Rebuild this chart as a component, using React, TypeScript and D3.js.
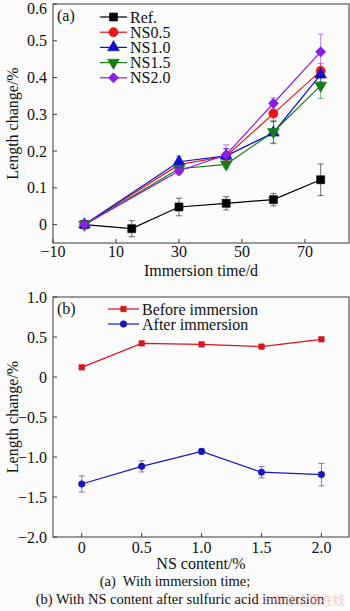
import React from "react";
import * as d3 from "d3";

const W = 350;
const H = 611;
const FONT = "'Liberation Serif', 'Times New Roman', serif";

// panel (a): length change vs immersion time
const refDays = [0, 15, 30, 45, 60, 75];
const refValues = [0, -0.011, 0.048, 0.058, 0.068, 0.122];
const refErrors = [0, 0.022, 0.024, 0.018, 0.017, 0.043];

const nsDays = [0, 30, 45, 60, 75];
const ns05Values = [0, 0.163, 0.186, 0.302, 0.418];
const ns05Errors = [0, 0.015, 0.02, 0.02, 0.02];
const ns10Values = [0, 0.171, 0.187, 0.25, 0.408];
const ns10Errors = [0, 0.015, 0.02, 0.03, 0.02];
const ns15Values = [0, 0.152, 0.164, 0.252, 0.378];
const ns15Errors = [0, 0.01, 0.01, 0.03, 0.035];
const ns20Values = [0, 0.146, 0.19, 0.33, 0.47];
const ns20Errors = [0, 0.01, 0.027, 0.015, 0.048];

const timeTicks = [-10, 10, 30, 50, 70];
const changeTicksA = [0, 0.1, 0.2, 0.3, 0.4, 0.5, 0.6];

// panel (b): length change vs NS content
const nsContent = [0, 0.5, 1.0, 1.5, 2.0];
const beforeValues = [0.121, 0.42, 0.408, 0.38, 0.471];
const beforeErrors = [0.02, 0.015, 0.015, 0.015, 0.025];
const afterValues = [-1.337, -1.117, -0.93, -1.19, -1.22];
const afterErrors = [0.1, 0.07, 0.03, 0.07, 0.14];

const contentTicks = [0, 0.5, 1.0, 1.5, 2.0];
const changeTicksB = [-2.0, -1.5, -1.0, -0.5, 0, 0.5, 1.0];

type Series = {
  name: string;
  xs: number[];
  ys: number[];
  errs: number[];
  color: string;
  marker: string;
  size: number;
};

const seriesA: Series[] = [
  { name: "Ref.", xs: refDays, ys: refValues, errs: refErrors, color: "#000000", marker: "square", size: 64 },
  { name: "NS0.5", xs: nsDays, ys: ns05Values, errs: ns05Errors, color: "#e8161b", marker: "circle", size: 66 },
  { name: "NS1.0", xs: nsDays, ys: ns10Values, errs: ns10Errors, color: "#1010c8", marker: "up", size: 60 },
  { name: "NS1.5", xs: nsDays, ys: ns15Values, errs: ns15Errors, color: "#167a16", marker: "down", size: 60 },
  { name: "NS2.0", xs: nsDays, ys: ns20Values, errs: ns20Errors, color: "#8a1ee8", marker: "diamond", size: 52 },
];

const seriesB: Series[] = [
  { name: "Before immersion", xs: nsContent, ys: beforeValues, errs: beforeErrors, color: "#d8161e", marker: "square", size: 30 },
  { name: "After immersion", xs: nsContent, ys: afterValues, errs: afterErrors, color: "#1818b8", marker: "circle", size: 34 },
];

function markerPath(kind: string, size: number) {
  const type =
    kind === "square" || kind === "diamond"
      ? d3.symbolSquare
      : kind === "circle"
      ? d3.symbolCircle
      : d3.symbolTriangle;
  return d3.symbol().type(type).size(size)() || "";
}

function markerRotate(kind: string) {
  if (kind === "down") return 180;
  if (kind === "diamond") return 45;
  return 0;
}

function Marker({ s, x, y }: { s: Series; x: number; y: number }) {
  return (
    <path
      d={markerPath(s.marker, s.size)}
      transform={`translate(${x},${y}) rotate(${markerRotate(s.marker)})`}
      fill={s.color}
      stroke={s.color}
      strokeWidth={0.6}
    />
  );
}

type PanelProps = {
  series: Series[];
  xDomain: [number, number];
  yDomain: [number, number];
  top: number;
  bottom: number;
  xTicks: number[];
  yTicks: number[];
  xFmt: (v: number) => string;
  yFmt: (v: number) => string;
  tag: string;
  xTitle: string;
  xTitleY: number;
  xLabelDy: number;
  legendX: number;
  legendY: number;
  legendStep: number;
  legendLine: number;
  capW: number;
};

function Panel(p: PanelProps) {
  const left = 53;
  const right = 349;
  const x = d3.scaleLinear().domain(p.xDomain).range([left, right]);
  const y = d3.scaleLinear().domain(p.yDomain).range([p.bottom, p.top]);
  const frameColor = "#3a3a3a";

  return (
    <g fontFamily={FONT}>
      <rect x={left} y={p.top} width={right - left} height={p.bottom - p.top} fill="none" stroke={frameColor} strokeWidth={1} />
      {/* y ticks */}
      {p.yTicks.map((t) => (
        <g key={"y" + t}>
          <line x1={left} x2={left + 4} y1={y(t)} y2={y(t)} stroke={frameColor} />
          <text x={47} y={Math.max(y(t), 8)} dy="0.35em" textAnchor="end" fontSize={16} fill="#111">
            {p.yFmt(t)}
          </text>
        </g>
      ))}
      {/* x ticks */}
      {p.xTicks.map((t) => (
        <g key={"x" + t}>
          <line x1={x(t)} x2={x(t)} y1={p.bottom} y2={p.bottom - 4} stroke={frameColor} />
          <text x={x(t)} y={p.bottom + p.xLabelDy} textAnchor="middle" fontSize={16} fill="#111">
            {p.xFmt(t)}
          </text>
        </g>
      ))}
      <text x={201} y={p.xTitleY} textAnchor="middle" fontSize={16} fill="#111">
        {p.xTitle}
      </text>
      <text
        transform={`translate(18,${(p.top + p.bottom) / 2}) rotate(-90)`}
        textAnchor="middle"
        fontSize={16}
        fill="#111"
      >
        Length change/%
      </text>
      <text x={57} y={p.top + 17} fontSize={16} fill="#111">
        {p.tag}
      </text>

      {/* error bars */}
      {p.series.map((s) =>
        s.xs.map((xv, i) =>
          s.errs[i] > 0 ? (
            <g key={s.name + "e" + i} stroke={s.color} strokeOpacity={0.55} strokeWidth={1}>
              <line x1={x(xv)} x2={x(xv)} y1={y(s.ys[i] - s.errs[i])} y2={y(s.ys[i] + s.errs[i])} />
              <line x1={x(xv) - p.capW} x2={x(xv) + p.capW} y1={y(s.ys[i] + s.errs[i])} y2={y(s.ys[i] + s.errs[i])} />
              <line x1={x(xv) - p.capW} x2={x(xv) + p.capW} y1={y(s.ys[i] - s.errs[i])} y2={y(s.ys[i] - s.errs[i])} />
            </g>
          ) : null
        )
      )}
      {/* lines */}
      {p.series.map((s) => {
        const path = d3
          .line<number>()
          .x((_, i) => x(s.xs[i]))
          .y((v) => y(v))(s.ys);
        return <path key={s.name + "l"} d={path || ""} fill="none" stroke={s.color} strokeWidth={1.2} />;
      })}
      {/* markers */}
      {p.series.map((s) =>
        s.xs.map((xv, i) => <Marker key={s.name + "m" + i} s={s} x={x(xv)} y={y(s.ys[i])} />)
      )}
      {/* legend */}
      {p.series.map((s, i) => {
        const ly = p.legendY + i * p.legendStep;
        return (
          <g key={s.name + "lg"}>
            <line x1={p.legendX} x2={p.legendX + p.legendLine} y1={ly} y2={ly} stroke={s.color} strokeWidth={1.2} />
            <Marker s={s} x={p.legendX + p.legendLine / 2} y={ly} />
            <text x={p.legendX + p.legendLine + 3} y={ly} dy="0.35em" fontSize={16} fill="#111">
              {s.name}
            </text>
          </g>
        );
      })}
    </g>
  );
}

export default function App() {
  return (
    <svg
      width={W}
      height={H}
      viewBox={`0 0 ${W} ${H}`}
      style={{ position: "absolute", left: 0, top: 0, background: "#fbfbfb" }}
    >
      <Panel
        series={seriesA}
        xDomain={[-10, 84]}
        yDomain={[-0.05, 0.6]}
        top={4}
        bottom={243}
        xTicks={timeTicks}
        yTicks={changeTicksA}
        xFmt={(v) => String(v).replace("-", "\u2212")}
        yFmt={(v) => (v === 0 ? "0" : v.toFixed(1))}
        tag="(a)"
        xTitle="Immersion time/d"
        xTitleY={276}
        xLabelDy={14}
        legendX={100}
        legendY={17}
        legendStep={15.2}
        legendLine={27}
        capW={3}
      />
      <Panel
        series={seriesB}
        xDomain={[-0.24, 2.23]}
        yDomain={[-2.0, 1.0]}
        top={297}
        bottom={537}
        xTicks={contentTicks}
        yTicks={changeTicksB}
        xFmt={(v) => (v === 0 ? "0" : v.toFixed(1))}
        yFmt={(v) => (v === 0 ? "0" : v.toFixed(1).replace("-", "\u2212"))}
        tag="(b)"
        xTitle="NS content/%"
        xTitleY={569}
        xLabelDy={16}
        legendX={108}
        legendY={309}
        legendStep={15}
        legendLine={31}
        capW={3}
      />
      <g fontFamily={FONT} fontSize={14.5} fill="#111" textAnchor="middle">
        <text x={175} y={586} xmlSpace="preserve">
          (a)  With immersion time;
        </text>
        <text x={180} y={604}>(b) With NS content after sulfuric acid immersion</text>
      </g>
      <text x={263} y={605} fontFamily="'Noto Sans CJK SC', sans-serif" fontSize={12} fill="#f2b8bc" opacity={0.7}>
        ©有色金属在线
      </text>
    </svg>
  );
}
